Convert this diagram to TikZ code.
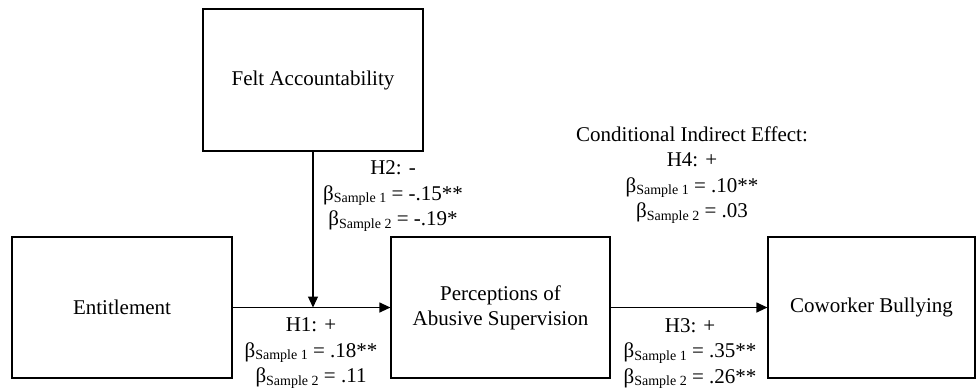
\documentclass[tikz,border=0pt]{standalone}
\usepackage{fontspec}
\setmainfont{Liberation Serif}
\usetikzlibrary{arrows.meta}
\newcommand{\bsub}[1]{β\raisebox{-0.25ex}{\fontsize{14}{14}\selectfont Sample #1}}
\tikzset{
  varbox/.style={draw, line width=1.2pt, inner sep=0pt, align=center, font=\fontsize{21}{25}\selectfont},
  lbl/.style={align=center, inner sep=0pt, font=\fontsize{21}{25.5}\selectfont},
  conn/.style={line width=1.2pt, -{Triangle[length=11pt,width=10pt]}}
}
\begin{document}
\begin{tikzpicture}[x=1pt,y=-1pt]
\useasboundingbox (0,0) rectangle (976,389);
\node[varbox, minimum width=220pt, minimum height=142pt] (fa) at (313,80) {Felt Accountability};
\node[varbox, minimum width=220pt, minimum height=141pt] (ent) at (122,307.5) {Entitlement};
\node[varbox, minimum width=219pt, minimum height=141pt] (pas) at (500.5,307.5) {Perceptions of\\Abusive Supervision};
\node[varbox, minimum width=207pt, minimum height=141pt] (cb) at (871.5,307.5) {Coworker Bullying};
\coordinate (mid) at (fa.south |- ent.east);
\draw[conn] (ent.east) -- (pas.west);
\draw[conn] (fa.south) -- (mid);
\draw[conn] (pas.east) -- (cb.west);
\node[lbl] (h2) at (393,196) {H2: -\\\bsub{1} = -.15**\\\bsub{2} = -.19*};
\node[lbl] (h1) at (311,353) {H1: +\\\bsub{1} = .18**\\\bsub{2} = .11};
\node[lbl] (h4) at (692,175) {Conditional Indirect Effect:\\H4: +\\\bsub{1} = .10**\\\bsub{2} = .03};
\node[lbl] (h3) at (690,353.5) {H3: +\\\bsub{1} = .35**\\\bsub{2} = .26**};
\end{tikzpicture}
\end{document}
